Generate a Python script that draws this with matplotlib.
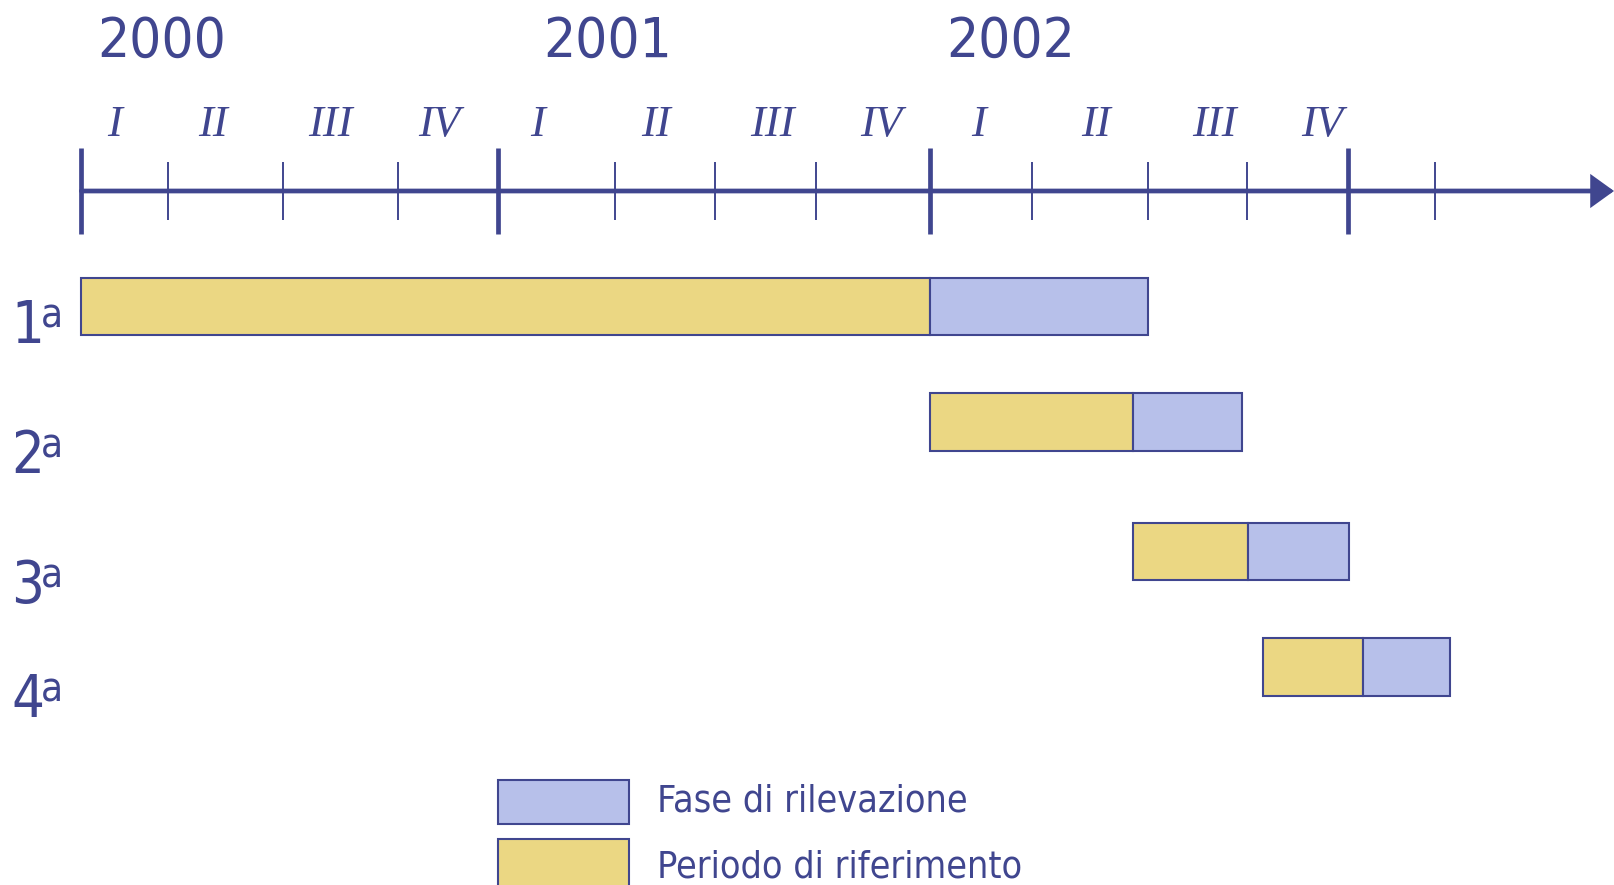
import matplotlib
matplotlib.use("Agg")
import matplotlib.pyplot as plt
from matplotlib import font_manager as fm
from matplotlib.patches import Rectangle

# Colours
NAVY = "#40468F"
BLUE = "#B7C0EA"
YELLOW = "#EBD783"

# Data (x positions in quarters counted from Jan 2000)
YEARS = ["2000", "2001", "2002"]
YEAR_POS = [0.76, 4.98, 8.80]
QUARTERS = ["I", "II", "III", "IV"] * 3
QUARTER_POS = [0.32, 1.25, 2.36, 3.39, 4.32, 5.44, 6.55, 7.57, 8.50, 9.61, 10.73, 11.75]
MAJOR_TICKS = [0.0, 3.95, 8.04, 12.0]
MINOR_TICKS = [0.82, 1.91, 3.0, 5.05, 6.0, 6.96, 9.0, 10.1, 11.04, 12.82]

WAVES = ["1", "2", "3", "4"]
REF_START = [0.0, 8.04, 9.96, 11.19]    # periodo di riferimento
REF_END = [8.04, 9.96, 11.05, 12.14]
SURVEY_END = [10.1, 10.99, 12.0, 12.96]  # fase di rilevazione

LEGEND_LABELS = ["Fase di rilevazione", "Periodo di riferimento"]

# Layout, in pixels of the 1614x885 canvas
W, H = 1614, 885
X0 = 81.3      # pixel of the start of 2000
PXQ = 105.6    # pixels per quarter
AXIS_Y = 191
MAJOR_SPAN = (148, 234)
MINOR_SPAN = (162, 220)
ROW_Y = [306.5, 421.8, 551.5, 666.8]
BAR_H = 57.5
LABEL_BASE = [343, 473, 603, 717]

# Tahoma-like font: condensed DejaVu if installed
path = fm.findfont(fm.FontProperties(family="DejaVu Sans", stretch="condensed"))
if "Condensed" in path:
    SANS = dict(family="DejaVu Sans", fontstretch="condensed")
else:
    SANS = dict(family="Liberation Sans")

fig = plt.figure(figsize=(W / 100, H / 100), dpi=100)

# time axes: x in quarters, y in pixels
ax = fig.add_axes([0, 0, 1, 1])
ax.set_xlim(-X0 / PXQ, (W - X0) / PXQ)
ax.set_ylim(H, 0)
ax.axis("off")

# layout axes: pixels both ways
lay = fig.add_axes([0, 0, 1, 1])
lay.set_xlim(0, W)
lay.set_ylim(H, 0)
lay.axis("off")

# timeline with arrow
lay.annotate("", xy=(W, AXIS_Y), xytext=(X0, AXIS_Y), annotation_clip=False,
             arrowprops=dict(arrowstyle="-|>,head_length=12.5,head_width=9",
                             mutation_scale=1, lw=3.4, color=NAVY,
                             joinstyle="miter", shrinkA=0, shrinkB=0))
ax.vlines(MAJOR_TICKS, *MAJOR_SPAN, lw=3.4, color=NAVY)
ax.vlines(MINOR_TICKS, *MINOR_SPAN, lw=1.4, color=NAVY)

for x, y in zip(YEAR_POS, YEARS):
    ax.text(x, 57, y, ha="center", va="baseline", fontsize=40.5, color=NAVY, **SANS)
for x, q in zip(QUARTER_POS, QUARTERS):
    ax.text(x, 136, q, ha="center", va="baseline", fontsize=32, color=NAVY,
            family="Liberation Serif", style="italic")

# bars
ref_w = [e - s for s, e in zip(REF_START, REF_END)]
survey_w = [e - s for s, e in zip(REF_END, SURVEY_END)]
ax.barh(ROW_Y, ref_w, left=REF_START, height=BAR_H, color=YELLOW,
        edgecolor=NAVY, lw=1.5)
ax.barh(ROW_Y, survey_w, left=REF_END, height=BAR_H, color=BLUE,
        edgecolor=NAVY, lw=1.5)

# row labels 1a..4a
for w, base in zip(WAVES, LABEL_BASE):
    lay.text(11, base, w, ha="left", va="baseline", fontsize=41.5, color=NAVY, **SANS)
    lay.text(41, base - 16, "a", ha="left", va="baseline", fontsize=29, color=NAVY, **SANS)

# legend
for (top, h), color, label, base in zip([(780, 44), (839.3, 60)], [BLUE, YELLOW],
                                        LEGEND_LABELS, [811, 878]):
    lay.add_patch(Rectangle((498.3, top), 130.7, h, facecolor=color,
                            edgecolor=NAVY, lw=1.5))
    lay.text(657, base, label, ha="left", va="baseline", fontsize=27, color=NAVY, **SANS)

fig.savefig("out.png", dpi=100)
